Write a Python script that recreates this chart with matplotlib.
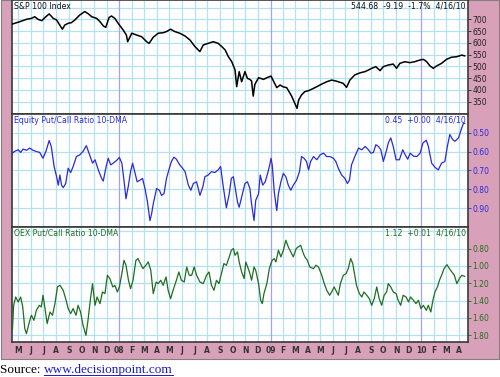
import matplotlib
matplotlib.use('Agg')
import matplotlib.pyplot as plt
import pandas as pd
from matplotlib.patches import Rectangle
from matplotlib.lines import Line2D

# ---------------- data ----------------
sp_dates = ['2007-04-17','2007-05-05','2007-05-21','2007-06-02','2007-06-10','2007-06-18','2007-06-27',
            '2007-07-05','2007-07-15','2007-07-25','2007-08-02','2007-08-08','2007-08-16','2007-08-22',
            '2007-08-30','2007-09-07','2007-09-15','2007-09-27','2007-10-09','2007-10-18','2007-10-26',
            '2007-11-07','2007-11-15','2007-11-23','2007-11-29','2007-12-07','2007-12-13','2007-12-21',
            '2007-12-29','2008-01-10','2008-01-18','2008-01-21','2008-01-31','2008-02-12','2008-02-24',
            '2008-03-07','2008-03-13','2008-03-23','2008-04-04','2008-04-16','2008-04-24','2008-05-04',
            '2008-05-14','2008-05-26','2008-06-08','2008-06-20','2008-07-02','2008-07-14','2008-07-22',
            '2008-08-03','2008-08-15','2008-08-27','2008-09-05','2008-09-13','2008-09-21','2008-09-29',
            '2008-10-07','2008-10-11','2008-10-17','2008-10-23','2008-10-31','2008-11-06','2008-11-12',
            '2008-11-16','2008-11-20','2008-11-24','2008-12-03','2008-12-15','2008-12-23','2009-01-02',
            '2009-01-08','2009-01-16','2009-01-24','2009-02-01','2009-02-09','2009-02-21','2009-03-06',
            '2009-03-10','2009-03-17','2009-03-25','2009-04-03','2009-04-15','2009-04-23','2009-05-05',
            '2009-05-17','2009-05-29','2009-06-06','2009-06-14','2009-06-26','2009-07-04','2009-07-12',
            '2009-07-24','2009-08-06','2009-08-18','2009-08-26','2009-09-03','2009-09-13','2009-09-23',
            '2009-10-01','2009-10-13','2009-10-25','2009-11-02','2009-11-10','2009-11-22','2009-12-04',
            '2009-12-16','2009-12-28','2010-01-06','2010-01-14','2010-01-22','2010-01-30','2010-02-07',
            '2010-02-19','2010-03-03','2010-03-15','2010-03-27','2010-04-09','2010-04-16']
sp_values = [680, 690, 700, 704, 711, 700, 694,
             708, 723, 704, 697, 680, 658, 676,
             683, 686, 697, 718, 733, 723, 711,
             704, 690, 672, 666, 708, 714, 704,
             683, 655, 633, 605, 641, 633, 626,
             605, 598, 624, 641, 643, 648, 658,
             648, 641, 629, 612, 584, 563, 591,
             598, 605, 598, 584, 570, 541, 520,
             485, 414, 478, 435, 478, 449, 445,
             438, 374, 424, 452, 445, 452, 459,
             438, 410, 421, 413, 410, 374, 322,
             357, 379, 393, 397, 407, 414, 425,
             435, 442, 439, 435, 428, 411, 442,
             464, 473, 478, 485, 492, 499, 482,
             499, 506, 510, 492, 513, 520, 516,
             520, 527, 530, 520, 502, 492, 502,
             513, 530, 539, 541, 548, 544.68]

eq_dates = ['2007-04-17','2007-04-22','2007-05-01','2007-05-07','2007-05-13','2007-05-21','2007-05-29',
            '2007-06-06','2007-06-14','2007-06-22','2007-06-30','2007-07-07','2007-07-15','2007-07-20',
            '2007-07-27','2007-08-02','2007-08-06','2007-08-10','2007-08-14','2007-08-18','2007-08-24',
            '2007-08-30','2007-09-05','2007-09-11','2007-09-19','2007-09-27','2007-10-05','2007-10-13',
            '2007-10-21','2007-10-28','2007-11-03','2007-11-11','2007-11-19','2007-11-23','2007-11-29',
            '2007-12-05','2007-12-11','2007-12-17','2007-12-25','2008-01-01','2008-01-07','2008-01-12',
            '2008-01-17','2008-01-23','2008-01-28','2008-02-02','2008-02-08','2008-02-13','2008-02-20',
            '2008-02-26','2008-03-03','2008-03-09','2008-03-15','2008-03-19','2008-03-23','2008-03-31',
            '2008-04-07','2008-04-12','2008-04-18','2008-04-24','2008-05-01','2008-05-06','2008-05-12',
            '2008-05-18','2008-05-26','2008-06-02','2008-06-08','2008-06-16','2008-06-22','2008-06-28',
            '2008-07-06','2008-07-14','2008-07-21','2008-07-26','2008-08-03','2008-08-11','2008-08-19',
            '2008-08-27','2008-09-02','2008-09-08','2008-09-16','2008-09-23','2008-09-28','2008-10-03',
            '2008-10-07','2008-10-13','2008-10-17','2008-10-23','2008-10-31','2008-11-06','2008-11-12',
            '2008-11-16','2008-11-22','2008-11-26','2008-12-03','2008-12-07','2008-12-13','2008-12-19',
            '2008-12-25','2008-12-30','2009-01-02','2009-01-05','2009-01-10','2009-01-16','2009-01-20',
            '2009-01-26','2009-02-01','2009-02-07','2009-02-13','2009-02-19','2009-02-25','2009-03-05',
            '2009-03-12','2009-03-17','2009-03-23','2009-03-29','2009-04-03','2009-04-08','2009-04-15',
            '2009-04-23','2009-05-01','2009-05-09','2009-05-17','2009-05-25','2009-06-02','2009-06-08',
            '2009-06-14','2009-06-22','2009-06-30','2009-07-06','2009-07-11','2009-07-16','2009-07-24',
            '2009-08-02','2009-08-10','2009-08-18','2009-08-26','2009-09-01','2009-09-07','2009-09-13',
            '2009-09-19','2009-09-25','2009-10-01','2009-10-08','2009-10-13','2009-10-19','2009-10-25',
            '2009-11-01','2009-11-09','2009-11-17','2009-11-23','2009-11-29','2009-12-05','2009-12-13',
            '2009-12-21','2009-12-29','2010-01-05','2010-01-13','2010-01-18','2010-01-26','2010-02-03',
            '2010-02-11','2010-02-19','2010-02-27','2010-03-05','2010-03-11','2010-03-18','2010-03-23',
            '2010-04-01','2010-04-09','2010-04-13','2010-04-16']
eq_values = [0.608, 0.599, 0.590, 0.604, 0.586, 0.593, 0.581,
             0.593, 0.599, 0.604, 0.635, 0.599, 0.541, 0.572,
             0.679, 0.733, 0.778, 0.724, 0.778, 0.791, 0.769,
             0.688, 0.711, 0.679, 0.626, 0.617, 0.599, 0.568,
             0.617, 0.661, 0.643, 0.697, 0.742, 0.756, 0.688,
             0.635, 0.670, 0.661, 0.647, 0.631, 0.661, 0.751,
             0.850, 0.778, 0.706, 0.661, 0.715, 0.760, 0.751,
             0.742, 0.796, 0.868, 0.966, 0.930, 0.877, 0.796,
             0.805, 0.832, 0.823, 0.742, 0.688, 0.652, 0.629,
             0.640, 0.670, 0.688, 0.706, 0.778, 0.805, 0.769,
             0.760, 0.832, 0.787, 0.733, 0.724, 0.706, 0.711,
             0.697, 0.679, 0.778, 0.898, 0.823, 0.742, 0.733,
             0.787, 0.868, 0.895, 0.841, 0.769, 0.760, 0.796,
             0.877, 0.966, 0.859, 0.823, 0.724, 0.778, 0.760,
             0.715, 0.670, 0.635, 0.670, 0.814, 0.913, 0.823,
             0.760, 0.715, 0.733, 0.778, 0.805, 0.778, 0.751,
             0.706, 0.626, 0.635, 0.652, 0.697, 0.652, 0.626,
             0.643, 0.617, 0.608, 0.626, 0.626, 0.635, 0.652,
             0.688, 0.724, 0.742, 0.769, 0.751, 0.670, 0.626,
             0.581, 0.590, 0.572, 0.590, 0.608, 0.604, 0.563,
             0.572, 0.590, 0.652, 0.599, 0.554, 0.527, 0.572,
             0.643, 0.643, 0.590, 0.617, 0.640, 0.608, 0.624,
             0.626, 0.608, 0.554, 0.539, 0.572, 0.661, 0.683,
             0.697, 0.661, 0.652, 0.572, 0.509, 0.536, 0.545,
             0.527, 0.473, 0.450, 0.45]

oex_dates = ['2007-04-17','2007-04-20','2007-04-25','2007-05-01','2007-05-07','2007-05-12','2007-05-17',
             '2007-05-21','2007-05-28','2007-06-02','2007-06-08','2007-06-14','2007-06-21','2007-06-26',
             '2007-06-30','2007-07-05','2007-07-10','2007-07-17','2007-07-23','2007-07-29','2007-08-04',
             '2007-08-10','2007-08-18','2007-08-25','2007-08-30','2007-09-05','2007-09-11','2007-09-18',
             '2007-09-23','2007-09-29','2007-10-05','2007-10-12','2007-10-17','2007-10-23','2007-10-28',
             '2007-11-03','2007-11-08','2007-11-15','2007-11-21','2007-11-27','2007-12-03','2007-12-09',
             '2007-12-16','2007-12-21','2007-12-27','2008-01-01','2008-01-07','2008-01-12','2008-01-17',
             '2008-01-23','2008-01-28','2008-02-03','2008-02-10','2008-02-15','2008-02-21','2008-02-27',
             '2008-03-05','2008-03-11','2008-03-17','2008-03-23','2008-03-30','2008-04-04','2008-04-10',
             '2008-04-16','2008-04-23','2008-04-28','2008-05-04','2008-05-10','2008-05-18','2008-05-24',
             '2008-05-30','2008-06-06','2008-06-12','2008-06-18','2008-06-24','2008-06-30','2008-07-06',
             '2008-07-14','2008-07-22','2008-07-30','2008-08-05','2008-08-11','2008-08-17','2008-08-23',
             '2008-08-29','2008-09-05','2008-09-10','2008-09-16','2008-09-23','2008-09-28','2008-10-03',
             '2008-10-07','2008-10-13','2008-10-17','2008-10-23','2008-10-29','2008-11-02','2008-11-08',
             '2008-11-12','2008-11-16','2008-11-22','2008-11-26','2008-12-03','2008-12-08','2008-12-12',
             '2008-12-16','2008-12-23','2008-12-29','2009-01-02','2009-01-05','2009-01-10','2009-01-14',
             '2009-01-20','2009-01-26','2009-02-01','2009-02-07','2009-02-13','2009-02-19','2009-02-25',
             '2009-03-04','2009-03-09','2009-03-15','2009-03-20','2009-03-25','2009-03-31','2009-04-06',
             '2009-04-15','2009-04-21','2009-04-27','2009-05-05','2009-05-11','2009-05-17','2009-05-24',
             '2009-05-29','2009-06-04','2009-06-08','2009-06-14','2009-06-19','2009-06-26','2009-07-03',
             '2009-07-08','2009-07-14','2009-07-19','2009-07-24','2009-07-28','2009-08-04','2009-08-10',
             '2009-08-15','2009-08-22','2009-08-28','2009-09-03','2009-09-09','2009-09-15','2009-09-21',
             '2009-09-27','2009-10-03','2009-10-09','2009-10-13','2009-10-19','2009-10-25','2009-11-01',
             '2009-11-06','2009-11-12','2009-11-18','2009-11-25','2009-12-01','2009-12-06','2009-12-13',
             '2009-12-19','2009-12-25','2009-12-31','2010-01-06','2010-01-13','2010-01-18','2010-01-24',
             '2010-01-29','2010-02-03','2010-02-09','2010-02-14','2010-02-19','2010-02-25','2010-03-04',
             '2010-03-10','2010-03-16','2010-03-22','2010-03-28','2010-04-03','2010-04-09','2010-04-16']
oex_values = [1.742, 1.454, 1.358, 1.415, 1.358, 1.473, 1.723,
              1.781, 1.646, 1.569, 1.627, 1.512, 1.454, 1.473,
              1.338, 1.492, 1.665, 1.531, 1.569, 1.435, 1.242,
              1.223, 1.281, 1.396, 1.492, 1.550, 1.492, 1.569,
              1.454, 1.531, 1.685, 1.800, 1.627, 1.377, 1.204,
              1.454, 1.358, 1.435, 1.300, 1.319, 1.108, 1.146,
              1.242, 1.223, 1.300, 1.242, 1.088, 0.935, 0.992,
              1.165, 1.262, 1.165, 0.935, 0.915, 0.973, 1.031,
              0.992, 0.954, 1.050, 1.319, 1.185, 1.204, 1.165,
              1.223, 1.127, 1.281, 1.377, 1.281, 1.165, 1.069,
              1.165, 1.185, 1.012, 1.108, 1.108, 1.012, 1.108,
              1.185, 1.204, 1.108, 1.069, 1.223, 1.281, 1.165,
              1.204, 1.069, 0.973, 0.992, 0.896, 0.819, 0.800,
              0.877, 0.838, 0.954, 1.069, 1.146, 0.954, 1.031,
              1.088, 1.165, 1.012, 1.050, 1.204, 1.396, 1.435,
              1.319, 1.204, 1.031, 0.973, 0.935, 0.915, 0.954,
              0.819, 0.896, 0.819, 0.704, 0.781, 0.838, 0.896,
              0.800, 0.781, 0.762, 0.838, 0.896, 0.935, 1.012,
              1.031, 0.992, 1.012, 1.108, 1.204, 1.281, 1.338,
              1.300, 1.242, 1.281, 1.338, 1.204, 1.108, 1.088,
              1.031, 0.915, 0.973, 1.108, 1.223, 1.319, 1.358,
              1.300, 1.338, 1.377, 1.454, 1.377, 1.242, 1.377,
              1.454, 1.338, 1.300, 1.204, 1.242, 1.300, 1.319,
              1.396, 1.454, 1.338, 1.358, 1.415, 1.358, 1.396,
              1.435, 1.396, 1.492, 1.454, 1.512, 1.454, 1.531,
              1.396, 1.300, 1.242, 1.165, 1.108, 1.031, 0.985,
              1.031, 1.069, 1.108, 1.204, 1.146, 1.108, 1.12]

month_labels = ['M','J','J','A','S','O','N','D',
                '08','F','M','A','M','J','J','A','S','O','N','D',
                '09','F','M','A','M','J','J','A','S','O','N','D',
                '10','F','M','A']

sp_ticks = [350, 400, 450, 500, 550, 600, 650, 700]
eq_ticks = [0.50, 0.60, 0.70, 0.80, 0.90]
oex_ticks = [0.80, 1.00, 1.20, 1.40, 1.60, 1.80]

titles = ['S&P 100 Index', 'Equity Put/Call Ratio 10-DMA', 'OEX Put/Call Ratio 10-DMA']
stats = ['544.68  -9.19  -1.7%  4/16/10', '0.45  +0.00  4/16/10', '1.12  +0.01  4/16/10']

# ---------------- styling ----------------
PINK = '#d9a1b9'
GRID = '#b4e2f2'
YEAR = '#a6a2f0'
BORDER = '#3a3a3a'
colors = ['#000000', '#2a2ad8', '#1f6e1f']
label_colors = ['#222222', '#2a2ad8', '#1f6e1f']

fig = plt.figure(figsize=(5.0, 3.77), dpi=100)
fig.patch.set_facecolor('white')
fig.add_artist(Rectangle((0.002, 1 - 359/377), 0.996, 359/377, transform=fig.transFigure,
                         facecolor=PINK, edgecolor='#808080', linewidth=0.8, zorder=0))

W, H = 500.0, 377.0
left, right = 12/W, 468/W
bounds = [(0, 114), (114, 227), (227, 342)]
axes = []
for (t, b) in bounds:
    ax = fig.add_axes([left, 1 - b/H, right - left, (b - t)/H])
    axes.append(ax)

xmin, xmax = pd.Timestamp('2007-04-16'), pd.Timestamp('2010-04-24')
months = pd.date_range('2007-05-01', '2010-04-01', freq='MS')

series = [(sp_dates, sp_values), (eq_dates, eq_values), (oex_dates, oex_values)]
ylims = [(298, 782), (1.0, 0.4), (1.877, 0.551)]
gridvals = [[350, 400, 450, 500, 550, 600, 650, 700, 750],
            [0.5, 0.6, 0.7, 0.8, 0.9],
            [0.6, 0.8, 1.0, 1.2, 1.4, 1.6, 1.8]]
ticks = [sp_ticks, eq_ticks, oex_ticks]
fmts = ['{:.0f}', '{:.2f}', '{:.2f}']
lws = [1.1, 0.9, 0.9]

for i, ax in enumerate(axes):
    ax.set_facecolor('white')
    for m in months:
        c, z = (YEAR, 1.5) if m.month == 1 else (GRID, 1)
        ax.axvline(m, color=c, linewidth=0.9, zorder=z)
    for g in gridvals[i]:
        ax.axhline(g, color=GRID, linewidth=0.9, zorder=1)
    d, v = series[i]
    ax.plot(pd.to_datetime(d), v, color=colors[i], linewidth=lws[i], zorder=3)
    ax.set_xlim(xmin, xmax)
    ax.set_ylim(*ylims[i])
    ax.yaxis.tick_right()
    ax.set_yticks(ticks[i])
    ax.set_yticklabels([fmts[i].format(t) for t in ticks[i]])
    ax.tick_params(axis='y', length=2, width=0.6, pad=1, labelsize=5.5,
                   colors=label_colors[i], labelcolor=label_colors[i])
    for s in ax.spines.values():
        s.set_color(BORDER)
        s.set_linewidth(1.2)
    ax.text(0.005, 0.985, titles[i], transform=ax.transAxes, ha='left', va='top',
            fontsize=5.6, color=colors[i] if i else '#111111', zorder=5)
    ax.text(0.995, 0.985, stats[i], transform=ax.transAxes, ha='right', va='top',
            fontsize=5.6, color=colors[i] if i else '#111111', zorder=5)
    if i < 2:
        ax.set_xticks([])
    else:
        ax.set_xticks(months)
        ax.set_xticklabels(month_labels)
        ax.tick_params(axis='x', length=0, pad=3, labelsize=5.5, labelcolor='#333333')
        for lab in ax.get_xticklabels():
            lab.set_fontweight('bold')

# source line
t1 = fig.text(0.0, 1 - 370/H, 'Source: ', family='Liberation Serif', fontsize=9.5,
              va='center', ha='left', color='black')
fig.canvas.draw()
bb = t1.get_window_extent()
x2 = bb.x1 / fig.bbox.width
t2 = fig.text(x2, 1 - 370/H, 'www.decisionpoint.com', family='Liberation Serif',
              fontsize=9.5, va='center', ha='left', color='#1a1acc')
fig.canvas.draw()
bb2 = t2.get_window_extent()
yl = (bb2.y0 + 1.5) / fig.bbox.height
fig.add_artist(Line2D([bb2.x0 / fig.bbox.width, bb2.x1 / fig.bbox.width], [yl, yl],
                      transform=fig.transFigure, color='#1a1acc', linewidth=0.7))

fig.savefig('out.png', dpi=100)
